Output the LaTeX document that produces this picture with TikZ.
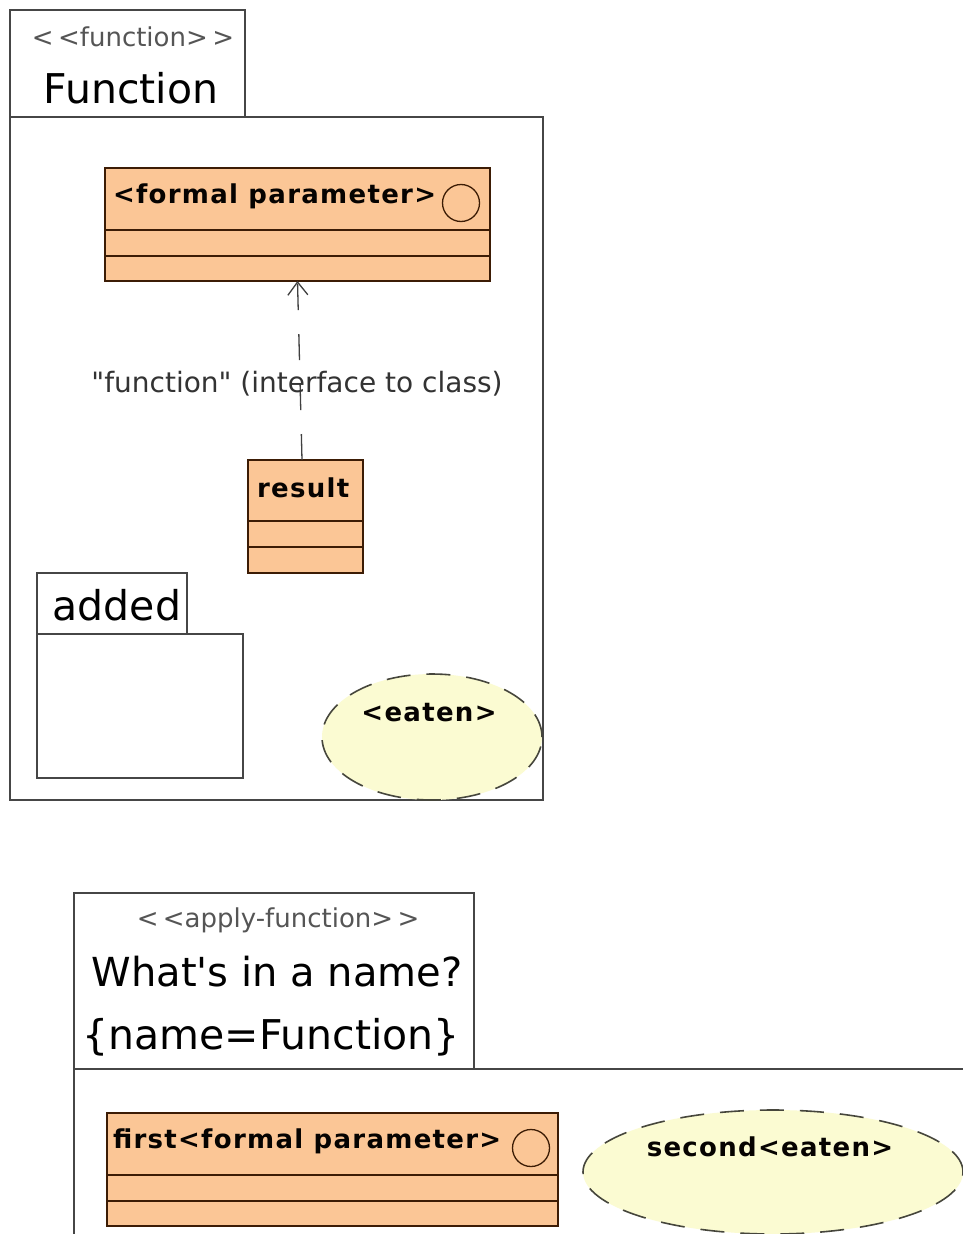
\documentclass[tikz,border=0pt]{standalone}
\usepackage{fontspec}
\setmainfont{DejaVu Sans}
\usetikzlibrary{arrows.meta,shapes.geometric}
\definecolor{clsfill}{RGB}{251,198,150}
\definecolor{clsline}{RGB}{60,28,5}
\definecolor{ucfill}{RGB}{251,251,210}
\definecolor{ucline}{RGB}{70,70,60}
\definecolor{pkgline}{RGB}{70,70,70}
\definecolor{stereocol}{RGB}{85,85,85}
\newcommand{\lt}{{<}}
\newcommand{\gt}{{>}}
\begin{document}
\begin{tikzpicture}[x=1pt,y=-1pt,
  every node/.style={inner sep=0pt,outer sep=0pt},
  pkg/.style={draw=pkgline,line width=1.3pt,fill=white,rectangle,anchor=north west},
  cls/.style={draw=clsline,line width=1.3pt,fill=clsfill,rectangle,anchor=north west},
  sep/.style={draw=clsline,line width=1.3pt},
  clstext/.style={font=\fontsize{26}{30}\selectfont\bfseries\addfontfeatures{LetterSpace=5},text=black!90!clsline,anchor=west},
  uc/.style={ellipse,draw=ucline,fill=ucfill,line width=1.6pt,dash pattern=on 24pt off 16pt},
  stereo/.style={font=\fontsize{26}{30}\selectfont,text=stereocol},
  pkgname/.style={font=\fontsize{41}{46}\selectfont,text=black},
  lbl/.style={font=\fontsize{28}{32}\selectfont,text=black!80},
  dep/.style={draw=black!75,line width=1.3pt,dash pattern=on 26pt off 24pt,-{Straight Barb[length=13pt,width=20pt,line width=1.3pt]}},
  marker/.style={draw=clsline,line width=1.3pt}
]
\useasboundingbox (0,0) rectangle (962,1234);
\fill[white] (0,0) rectangle (962,1234);

% ---- package Function ----
\node[pkg,minimum width=235pt,minimum height=107pt] (ftab) at (10,10) {};
\node[pkg,minimum width=533pt,minimum height=683pt] (fbody) at (10,117) {};
\node[stereo] (fst) at (133,37) {\lt\,\lt function\gt\,\gt};
\node[pkgname] (fname) at (131,88) {Function};

% formal parameter class
\node[cls,minimum width=385pt,minimum height=113pt] (fp) at (105,168) {};
\draw[sep] ([yshift=-62pt]fp.north west) -- ([yshift=-62pt]fp.north east);
\draw[sep] ([yshift=-88pt]fp.north west) -- ([yshift=-88pt]fp.north east);
\node[clstext] (fptext) at (113,196) {\lt formal parameter\gt};
\draw[marker] (461,203) circle[radius=18.5pt];

% result class
\node[cls,minimum width=115pt,minimum height=113pt] (res) at (248,460) {};
\draw[sep] ([yshift=-61pt]res.north west) -- ([yshift=-61pt]res.north east);
\draw[sep] ([yshift=-87pt]res.north west) -- ([yshift=-87pt]res.north east);
\node[clstext] (restext) at (257,488) {result};

% dependency
\draw[dep] ([xshift=-3.5pt]res.north) -- (fp.south);
\node[lbl] (deplabel) at (297,384) {\textquotedbl function\textquotedbl\ (interface to class)};

% added package
\node[pkg,minimum width=150pt,minimum height=61pt] (atab) at (37,573) {};
\node[pkg,minimum width=206pt,minimum height=144pt] (abody) at (37,634) {};
\node[pkgname] (aname) at (117,605) {added};

% eaten use case
\node[uc,minimum width=220pt,minimum height=126pt] (eaten) at (432,737) {};
\node[clstext,anchor=center] (eatentext) at (429,713) {\lt eaten\gt};

% ---- package What's in a name? ----
\node[pkg,minimum width=400pt,minimum height=176pt] (wtab) at (74,893) {};
\node[pkg,minimum width=920pt,minimum height=220pt] (wbody) at (74,1069) {};
\node[stereo] (wst) at (278,920) {\lt\,\lt apply-function\gt\,\gt};
\node[pkgname,font=\fontsize{40}{46}\selectfont] (wname) at (277,972) {What\textquotesingle s in a name?};
\node[pkgname] (wprop) at (271,1037) {\{name=Function\}};

% first class
\node[cls,minimum width=451pt,minimum height=113pt] (first) at (107,1113) {};
\draw[sep] ([yshift=-62pt]first.north west) -- ([yshift=-62pt]first.north east);
\draw[sep] ([yshift=-88pt]first.north west) -- ([yshift=-88pt]first.north east);
\node[clstext] (firsttext) at (113,1141) {first\lt formal parameter\gt};
\draw[marker] (531,1148) circle[radius=18.5pt];

% second use case
\node[uc,minimum width=380pt,minimum height=124pt] (second) at (773,1172) {};
\node[clstext,anchor=center] (secondtext) at (770,1147) {second\lt eaten\gt};
\end{tikzpicture}
\end{document}
